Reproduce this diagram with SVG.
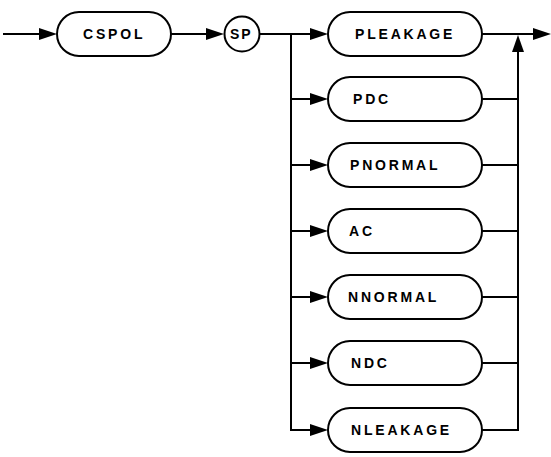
<svg xmlns="http://www.w3.org/2000/svg" width="551" height="457" viewBox="0 0 551 457">
<defs>
<style>
.box{fill:none;stroke:#000;stroke-width:2}
.ln{fill:none;stroke:#000;stroke-width:2}
.ah{fill:#000;stroke:none}
text{font-family:"Liberation Sans",Arial,sans-serif;font-weight:bold;font-size:14px;letter-spacing:2.8px;fill:#000}
</style>
</defs>
<rect width="551" height="457" fill="#fff"/>
<g id="connectors">
<path class="ln" d="M3 34H42"/>
<polygon class="ah" points="57,34 39,28 39,40"/>
<path class="ln" d="M171 34H210"/>
<polygon class="ah" points="224,34 206,28 206,40"/>
<path class="ln" d="M260 34H291V430H312"/>
<path class="ln" d="M291 34H312"/>
<path class="ln" d="M291 99H312"/>
<path class="ln" d="M291 165H312"/>
<path class="ln" d="M291 231H312"/>
<path class="ln" d="M291 297H312"/>
<path class="ln" d="M291 363H312"/>
<polygon class="ah" points="328,34 310,28 310,40"/>
<polygon class="ah" points="328,99 310,93 310,105"/>
<polygon class="ah" points="328,165 310,159 310,171"/>
<polygon class="ah" points="328,231 310,225 310,237"/>
<polygon class="ah" points="328,297 310,291 310,303"/>
<polygon class="ah" points="328,363 310,357 310,369"/>
<polygon class="ah" points="328,430 310,424 310,436"/>
<path class="ln" d="M482 430H518V48"/>
<polygon class="ah" points="518,35 512,52 524,52"/>
<path class="ln" d="M482 99H518"/>
<path class="ln" d="M482 165H518"/>
<path class="ln" d="M482 231H518"/>
<path class="ln" d="M482 297H518"/>
<path class="ln" d="M482 363H518"/>
<path class="ln" d="M482 34H536"/>
<polygon class="ah" points="551,34 533,28 533,40"/>
</g>
<g id="n-cspol"><rect class="box" x="57" y="12" width="114" height="44" rx="22"/><text x="83" y="39">CSPOL</text></g>
<g id="n-sp"><circle class="box" cx="242" cy="34" r="17.5"/><text x="230" y="39" style="letter-spacing:2px">SP</text></g>
<g id="n-pleakage"><rect class="box" x="328" y="12" width="154" height="44" rx="22"/><text x="355" y="39">PLEAKAGE</text></g>
<g id="n-pdc"><rect class="box" x="328" y="77" width="154" height="44" rx="22"/><text x="353" y="104">PDC</text></g>
<g id="n-pnormal"><rect class="box" x="328" y="143" width="154" height="44" rx="22"/><text x="350" y="170">PNORMAL</text></g>
<g id="n-ac"><rect class="box" x="328" y="209" width="154" height="44" rx="22"/><text x="349" y="236">AC</text></g>
<g id="n-nnormal"><rect class="box" x="328" y="275" width="154" height="44" rx="22"/><text x="348" y="302">NNORMAL</text></g>
<g id="n-ndc"><rect class="box" x="328" y="341" width="154" height="44" rx="22"/><text x="351" y="368">NDC</text></g>
<g id="n-nleakage"><rect class="box" x="328" y="408" width="154" height="44" rx="22"/><text x="351" y="435">NLEAKAGE</text></g>
</svg>
